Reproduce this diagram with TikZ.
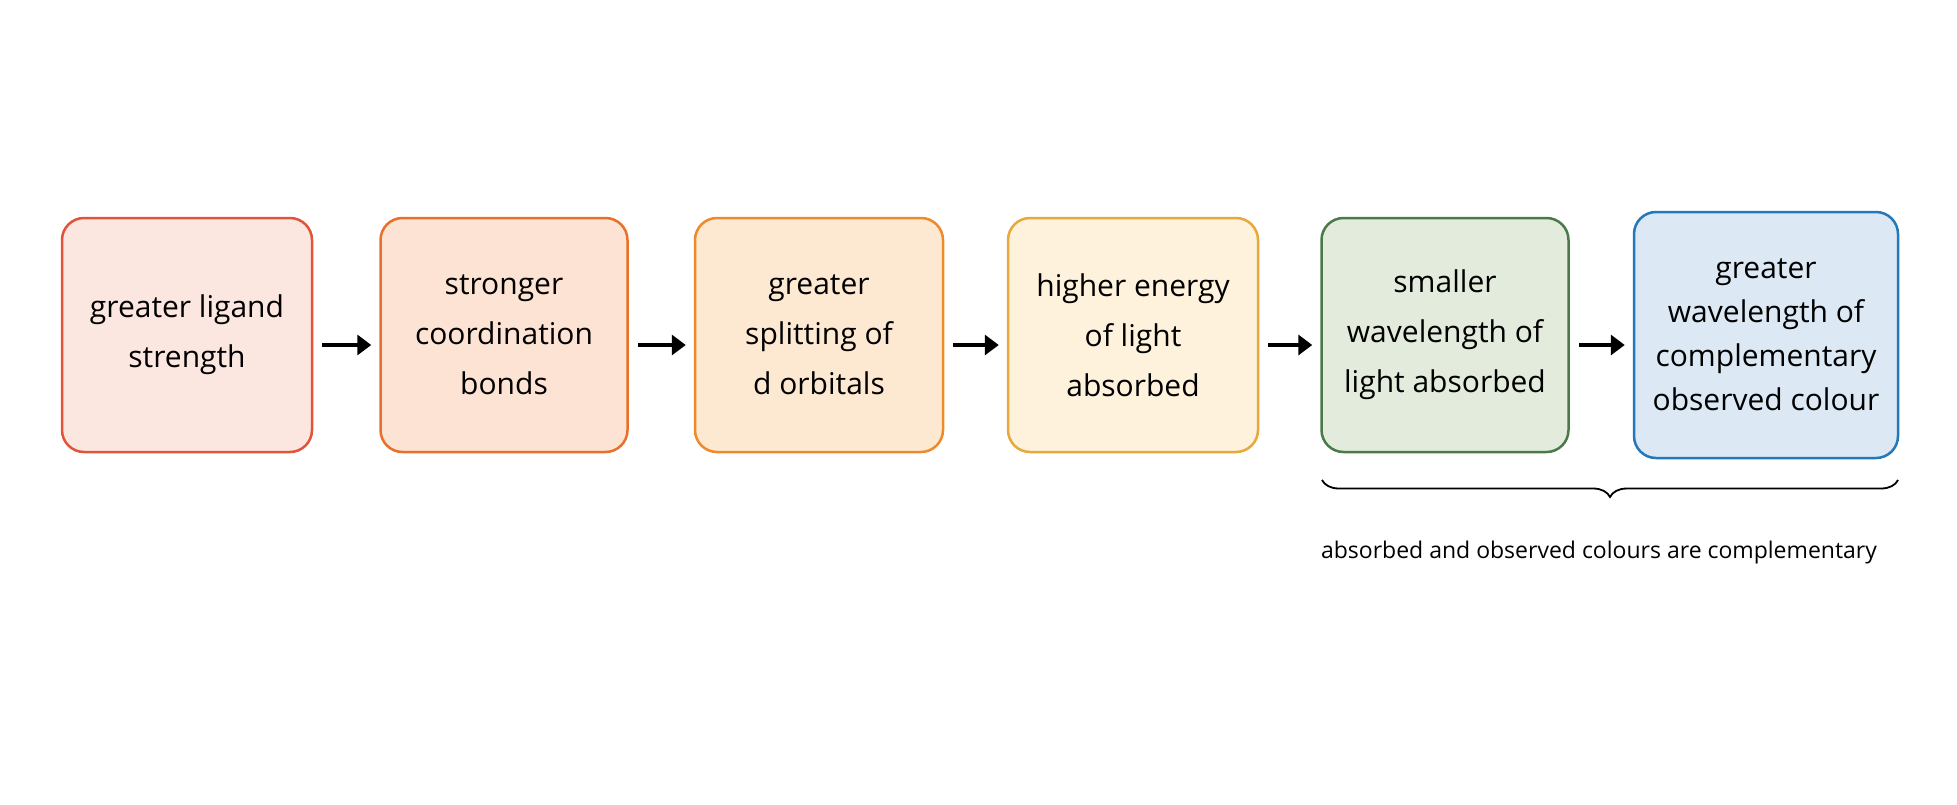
\documentclass[tikz,border=0pt]{standalone}
\usepackage{fontspec}
\setmainfont{Open Sans}
\usetikzlibrary{decorations.pathreplacing,arrows.meta}
\definecolor{f1}{HTML}{FCE6E0}\definecolor{b1}{HTML}{E0553A}
\definecolor{f2}{HTML}{FCE3D3}\definecolor{b2}{HTML}{E8702A}
\definecolor{f3}{HTML}{FDE8D2}\definecolor{b3}{HTML}{EE8A2A}
\definecolor{f4}{HTML}{FEF2DD}\definecolor{b4}{HTML}{E8A83A}
\definecolor{f5}{HTML}{E3EBDD}\definecolor{b5}{HTML}{4A7A48}
\definecolor{f6}{HTML}{DCE9F4}\definecolor{b6}{HTML}{2278B8}
\begin{document}
\begin{tikzpicture}[x=1pt,y=-1pt,
 box/.style={draw=#1,fill=f\string#1,line width=2.5pt,rounded corners=22pt,minimum width=250pt,minimum height=234pt,align=center,font=\fontsize{30}{50}\selectfont,inner sep=0pt},
 arr/.style={-{Triangle[length=14pt,width=20pt]},line width=4.5pt,black}]
\useasboundingbox (0,0) rectangle (1957,804);
\node[draw=b1,fill=f1,line width=2.5pt,rounded corners=22pt,minimum width=250pt,minimum height=234pt,align=center,font=\fontsize{30}{50}\selectfont,inner sep=0pt] (n1) at (187,335) {greater ligand\\strength};
\node[draw=b2,fill=f2,line width=2.5pt,rounded corners=22pt,minimum width=247pt,minimum height=234pt,align=center,font=\fontsize{30}{50}\selectfont,inner sep=0pt] (n2) at (504,335) {stronger\\coordination\\bonds};
\node[draw=b3,fill=f3,line width=2.5pt,rounded corners=22pt,minimum width=248pt,minimum height=234pt,align=center,font=\fontsize{30}{50}\selectfont,inner sep=0pt] (n3) at (819,335) {greater\\splitting of\\d orbitals};
\node[draw=b4,fill=f4,line width=2.5pt,rounded corners=22pt,minimum width=250pt,minimum height=234pt,align=center,font=\fontsize{30}{50}\selectfont,inner sep=0pt] (n4) at (1133,335) {higher energy\\of light\\absorbed};
\node[draw=b5,fill=f5,line width=2.5pt,rounded corners=22pt,minimum width=247pt,minimum height=234pt,align=center,font=\fontsize{30}{50}\selectfont,inner sep=0pt] (n5) at (1445,335) {smaller\\wavelength of\\light absorbed};
\node[draw=b6,fill=f6,line width=2.5pt,rounded corners=22pt,minimum width=264pt,minimum height=246pt,align=center,font=\fontsize{30}{44}\selectfont,inner sep=0pt] (n6) at (1766,335) {greater\\wavelength of\\complementary\\observed colour};
\foreach \a/\b in {n1/n2,n2/n3,n3/n4,n4/n5,n5/n6}
  \draw[arr] ([xshift=9pt,yshift=-10pt]\a.east) -- ([xshift=-8pt,yshift=-10pt]\b.west);
\coordinate (bl) at (1322,480);
\coordinate (br) at (1898,480);
\draw[line width=1.8pt,decorate,decoration={brace,mirror,amplitude=17pt}] (bl) -- (br);
\node[font=\fontsize{23}{28}\selectfont] (lab) at (1599,553) {absorbed and observed colours are complementary};
\end{tikzpicture}
\end{document}
